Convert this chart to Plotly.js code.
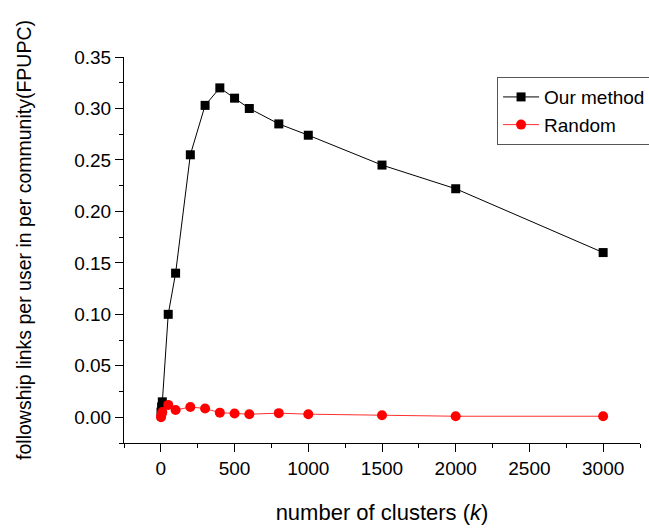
<!DOCTYPE html>
<html>
<head>
<meta charset="utf-8">
<script src="https://cdn.plot.ly/plotly-3.0.1.min.js"></script>
<style>html,body{margin:0;padding:0;background:#fff;}#chart{width:649px;height:529px;}</style>
</head>
<body>
<div id="chart"></div>
<script>
const kOurs = [1, 5, 10, 50, 100, 200, 300, 400, 500, 600, 800, 1000, 1500, 2000, 3000];
const ours = [0.005, 0.010, 0.015, 0.100, 0.140, 0.255, 0.303, 0.320, 0.310, 0.300, 0.285, 0.274, 0.245, 0.222, 0.160];
const kRandom = [1, 5, 10, 50, 100, 200, 300, 400, 500, 600, 800, 1000, 1500, 2000, 3000];
const random = [0.000, 0.003, 0.005, 0.012, 0.007, 0.010, 0.0085, 0.0045, 0.0036, 0.003, 0.004, 0.003, 0.002, 0.001, 0.001];
const xTicks = [0, 500, 1000, 1500, 2000, 2500, 3000];
const yTicks = [0.00, 0.05, 0.10, 0.15, 0.20, 0.25, 0.30, 0.35];
const yTitle = 'followship links per user in per community(FPUPC)';

const traces = [
  {x: kOurs, y: ours, name: 'Our method', mode: 'lines+markers', type: 'scatter',
   line: {color: '#000000', width: 1}, marker: {symbol: 'square', size: 9, color: '#000000'}},
  {x: kRandom, y: random, name: 'Random', mode: 'lines+markers', type: 'scatter',
   line: {color: '#ff3030', width: 1}, marker: {symbol: 'circle', size: 10, color: '#ff0000'}}
];

const layout = {
  width: 649, height: 529,
  margin: {l: 124, r: 9, t: 57, b: 86, autoexpand: false},
  paper_bgcolor: '#fff', plot_bgcolor: '#fff',
  font: {family: 'Arial, Liberation Sans, sans-serif', size: 19, color: '#000'},
  showlegend: true,
  legend: {x: 0.723, y: 0.948, xanchor: 'left', yanchor: 'top', bordercolor: '#555', borderwidth: 1,
           bgcolor: '#fff', font: {size: 19}, tracegroupgap: 0, itemwidth: 36},
  xaxis: {
    range: [-250, 3250], tickvals: xTicks, ticktext: xTicks.map(String),
    showgrid: false, zeroline: false, showline: true, linecolor: '#000', linewidth: 1,
    ticks: 'outside', ticklen: 8, tickcolor: '#000', tickwidth: 1,
    minor: {tickvals: [-250, 250, 750, 1250, 1750, 2250, 2750, 3250], ticks: 'outside', ticklen: 4, tickcolor: '#000'},
    title: {text: 'number of clusters (<i>k</i>)', font: {size: 22}, standoff: 26}
  },
  yaxis: {
    range: [-0.025, 0.35], tickvals: yTicks, ticktext: yTicks.map(v => v.toFixed(2)),
    showgrid: false, zeroline: false, showline: true, linecolor: '#000', linewidth: 1,
    ticks: 'outside', ticklen: 8, tickcolor: '#000', tickwidth: 1,
    minor: {tickvals: [-0.025, 0.025, 0.075, 0.125, 0.175, 0.225, 0.275, 0.325], ticks: 'outside', ticklen: 4, tickcolor: '#000'}
  },
  annotations: [{
    text: yTitle, xref: 'paper', yref: 'paper', x: -0.1938, y: 0.526,
    xanchor: 'center', yanchor: 'middle', textangle: -90, showarrow: false,
    font: {size: 19.5}
  }]
};

Plotly.newPlot('chart', traces, layout, {displayModeBar: false, staticPlot: true});
</script>
</body>
</html>
